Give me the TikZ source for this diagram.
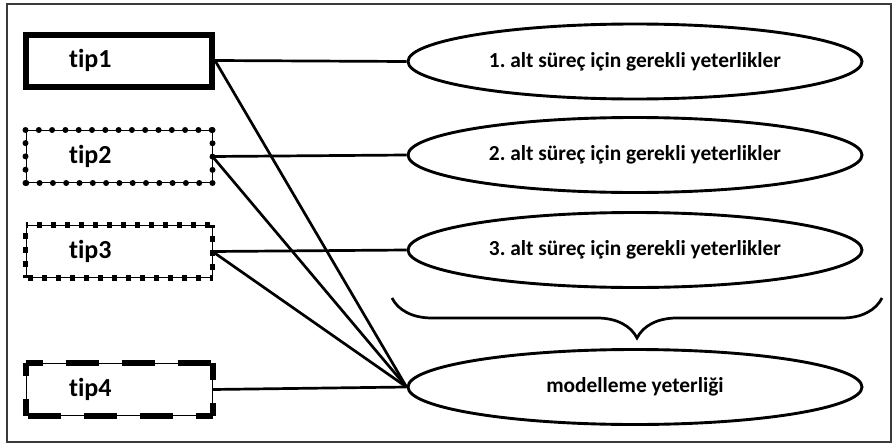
\documentclass[tikz,border=0pt]{standalone}
\usepackage{fontspec}
\setmainfont{Carlito}[Ligatures=NoCommon]
\usepackage{tikz}
\usetikzlibrary{shapes.geometric,decorations.pathreplacing}
\definecolor{framegrey}{HTML}{3A3A3A}
\frenchspacing

\begin{document}
\begin{tikzpicture}[
  x=1pt, y=-1pt,
  tipbox/.style={minimum height=52pt, text width=100pt, inner xsep=43pt,
                 align=left, font=\fontsize{26}{28}\selectfont\bfseries},
  solidbox/.style={tipbox, draw, line width=6pt},
  thinbox/.style={tipbox, draw, line width=1pt},
  dotedge/.style={line width=6pt, line cap=round, dash pattern=on 0pt off 13.3pt},
  squareedge/.style={line width=5.5pt, line cap=butt, dash pattern=on 5.5pt off 8.5pt,
                     dash phase=2.75pt},
  dashedge/.style={line width=6pt, line cap=butt, dash pattern=on 33pt off 23pt,
                   dash phase=16pt},
  ell/.style={ellipse, draw, line width=2.9pt, minimum width=454pt, minimum height=75pt,
              inner sep=0pt, font=\fontsize{21.4}{23}\selectfont\bfseries},
  conn/.style={line width=2.7pt},
]
\useasboundingbox (0,0) rectangle (894,447);
\draw[framegrey, line width=2.6pt] (7,4) rectangle (891,442);

\node[solidbox] (t1) at (119,60.5) {tip1};
\node[thinbox]  (t2) at (119,156.5) {tip2};
\node[thinbox]  (t3) at (119,251.5) {tip3};
\node[thinbox]  (t4) at (119,389.5) {tip4};

\foreach \a/\b in {north west/north east,north east/south east,south east/south west,south west/north west}{
  \draw[dotedge] (t2.\a) -- (t2.\b);
  \draw[squareedge] (t3.\a) -- (t3.\b);
  \draw[dashedge] (t4.\a) -- (t4.\b);
}

\node[ell] (e1) at (635,61.5) {1. alt süreç için gerekli yeterlikler};
\node[ell] (e2) at (635,155)  {2. alt süreç için gerekli yeterlikler};
\node[ell] (e3) at (635,250)  {3. alt süreç için gerekli yeterlikler};
\node[ell] (m)  at (635,387)  {modelleme yeterliği};

\coordinate (bl) at (392,298);
\coordinate (br) at (882,298);
\draw[decorate, decoration={brace, amplitude=40pt}, line width=2.7pt] (br) -- (bl);

\foreach \s/\d in {t1/e1,t2/e2,t3/e3} { \draw[conn] (\s.east) -- (\d.west); }
\foreach \s in {t1,t2,t3,t4} { \draw[conn] (\s.east) -- (m.west); }
\end{tikzpicture}
\end{document}
